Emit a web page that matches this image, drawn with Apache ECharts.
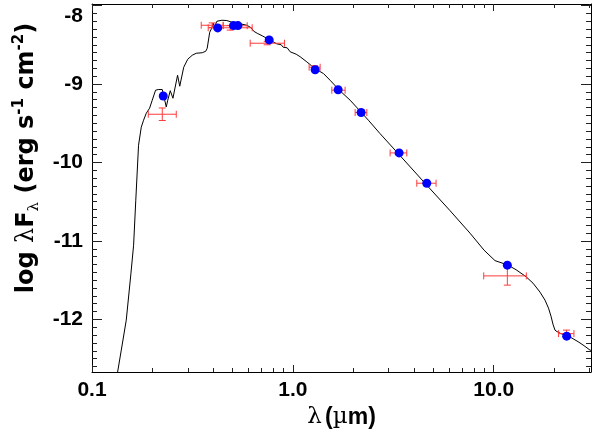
<!DOCTYPE html>
<html>
<head>
<meta charset="utf-8">
<script src="https://cdn.jsdelivr.net/npm/echarts@6/dist/echarts.min.js"></script>
<style>html,body{margin:0;padding:0;background:#fff}#main{width:598px;height:435px}</style>
</head>
<body>
<div id="main"></div>
<script>
// model spectrum: wavelength (micron) and log(lambda F_lambda)
var modelLambda = [0.1313, 0.1341, 0.1399, 0.1481, 0.1563, 0.1611, 0.1652, 0.1705, 0.1759, 0.1806,
    0.1863, 0.1935, 0.1995, 0.2072, 0.2137, 0.2238, 0.2282, 0.2343, 0.2383, 0.2453,
    0.2529, 0.2553, 0.2667, 0.2734, 0.2766, 0.2862, 0.2996, 0.3155, 0.3303, 0.3538,
    0.3683, 0.3746, 0.3855, 0.3945, 0.4014, 0.4060, 0.4187, 0.4433, 0.4694, 0.5062,
    0.5468, 0.5904, 0.6201, 0.6383, 0.6493, 0.6644, 0.7036, 0.7451, 0.7888, 0.8307,
    0.8746, 0.8949, 0.9368, 0.9696, 1.0385, 1.087, 1.174, 1.291, 1.420, 1.533,
    1.705, 1.928, 2.187, 2.377, 2.719, 3.419, 4.642, 6.062, 7.623, 8.949,
    10.15, 11.69, 12.91, 14.48, 15.69, 17.00, 18.00, 18.74, 19.28, 19.72,
    20.18, 20.65, 21.62, 23.08, 24.52, 26.28, 28.14, 30.15, 30.83];
var modelFlux = [-12.811, -12.671, -12.391, -12.009, -11.410, -11.054, -10.480, -9.780, -9.550, -9.461,
    -9.372, -9.308, -9.206, -9.079, -9.070, -9.070, -9.079, -9.292, -9.206, -9.085,
    -9.181, -9.194, -8.888, -9.028, -9.041, -8.786, -8.684, -8.633, -8.608, -8.601,
    -8.582, -8.544, -8.340, -8.289, -8.225, -8.276, -8.200, -8.187, -8.191, -8.219,
    -8.232, -8.251, -8.283, -8.327, -8.302, -8.353, -8.385, -8.420, -8.455, -8.487,
    -8.499, -8.531, -8.538, -8.589, -8.620, -8.652, -8.718, -8.805, -8.866, -8.952,
    -9.079, -9.206, -9.359, -9.461, -9.633, -9.913, -10.289, -10.614, -10.901, -11.117,
    -11.251, -11.304, -11.366, -11.455, -11.538, -11.652, -11.754, -11.856, -11.958, -12.060,
    -12.136, -12.155, -12.181, -12.206, -12.238, -12.283, -12.334, -12.391, -12.397];

// synthetic photometry of the model (blue dots)
var synLambda = [0.2263, 0.4224, 0.5062, 0.5326, 0.7623, 1.291, 1.680, 2.187, 3.380, 4.642, 11.69, 23.08];
var synFlux = [-9.152, -8.285, -8.255, -8.255, -8.438, -8.818, -9.073, -9.363, -9.878, -10.264, -11.308, -12.213];

// observed photometry (red error bars)
var obsLambda = [0.2238, 0.3968, 0.4876, 0.5163, 0.7451, 1.284, 1.686, 2.187, 3.353, 4.620, 11.69, 23.02];
var obsLambdaLo = [0.1906, 0.3498, 0.3789, 0.4499, 0.6131, 1.205, 1.563, 2.042, 3.049, 4.140, 8.918, 21.03];
var obsLambdaHi = [0.2627, 0.4499, 0.6273, 0.5925, 0.9082, 1.367, 1.820, 2.334, 3.692, 5.164, 14.53, 25.08];
var obsFlux = [-9.385, -8.251, -8.283, -8.257, -8.480, -8.786, -9.079, -9.363, -9.878, -10.264, -11.445, -12.181];
var obsErr = [0.08, 0.03, 0.03, 0.02, 0.02, 0.02, 0.02, 0.02, 0.02, 0.02, 0.118, 0.045];

// axes
var xMajorTicks = [0.1, 1, 10];
var xMinorTicks = [0.2, 0.3, 0.4, 0.5, 0.6, 0.7, 0.8, 0.9, 2, 3, 4, 5, 6, 7, 8, 9, 20, 30];
var yMajorTicks = [-12, -11, -10, -9, -8];
var xMin = 0.1, xMax = 30.5, yMin = -12.67, yMax = -7.98;

var lg = Math.log10;
var yMinorTicks = [];
for (var i = -126; i <= -80; i++) {
    if (i % 10 !== 0) yMinorTicks.push(i / 10);
}

var modelData = modelLambda.map(function (l, k) { return [lg(l), modelFlux[k]]; });
var synData = synLambda.map(function (l, k) { return [lg(l), synFlux[k]]; });
var obsData = obsLambda.map(function (l, k) {
    return [lg(l), obsFlux[k], lg(obsLambdaLo[k]), lg(obsLambdaHi[k]), obsErr[k]];
});

var fontLab = 'Liberation Sans, Arial, sans-serif';
var tickCol = '#222';

function xAxisDef(pos, major, main) {
    return {
        type: 'value', position: pos, min: lg(xMin), max: lg(xMax),
        axisLine: { show: !!main, onZero: false, lineStyle: { color: '#000', width: 1 } },
        splitLine: { show: false },
        axisTick: {
            inside: true, length: major ? 7 : 4, lineStyle: { color: tickCol },
            customValues: (major ? xMajorTicks : xMinorTicks).map(lg)
        },
        axisLabel: {
            show: pos === 'bottom' && major,
            customValues: xMajorTicks.map(lg),
            margin: 8, color: '#000', fontSize: 21, fontWeight: 'bold', fontFamily: fontLab,
            formatter: function (v) { return Math.pow(10, v).toFixed(1); }
        }
    };
}

function yAxisDef(pos, major, main) {
    return {
        type: 'value', position: pos, min: yMin, max: yMax,
        axisLine: { show: !!main, onZero: false, lineStyle: { color: '#000', width: 1 } },
        splitLine: { show: false },
        axisTick: {
            inside: true, length: major ? 10 : 5, lineStyle: { color: tickCol },
            customValues: major ? yMajorTicks : yMinorTicks
        },
        axisLabel: {
            show: pos === 'left' && major,
            customValues: yMajorTicks,
            margin: 9, color: '#000', fontSize: 21, fontWeight: 'bold', fontFamily: fontLab,
            verticalAlignMaxLabel: 'top'
        }
    };
}

var xAxes = [xAxisDef('bottom', true, true), xAxisDef('bottom', false), xAxisDef('top', true, true), xAxisDef('top', false)];
xAxes[0].name = '{g|λ} {a|(}{g|µ}{a|m)}';
xAxes[0].nameLocation = 'middle';
xAxes[0].nameGap = 29;
xAxes[0].nameTextStyle = {
    rich: {
        a: { fontSize: 23, fontWeight: 'bold', fontFamily: fontLab, color: '#000' },
        g: { fontSize: 23, fontFamily: 'DejaVu Serif, serif', color: '#000' }
    }
};

var yAxes = [yAxisDef('left', true, true), yAxisDef('left', false), yAxisDef('right', true, true), yAxisDef('right', false)];
yAxes[0].name = '{a|log }{g|λ}{a|F}{s|λ}{a| (erg s}{p|-1}{a| cm}{p|-2}{a|)}';
yAxes[0].nameLocation = 'middle';
yAxes[0].nameRotate = 90;
yAxes[0].nameGap = 38;
yAxes[0].nameTextStyle = {
    padding: [0, 0, 0, 60],
    rich: {
        a: { fontSize: 24, fontWeight: 'bold', fontFamily: 'DejaVu Sans, sans-serif', color: '#000', lineHeight: 30 },
        g: { fontSize: 24, fontFamily: 'DejaVu Serif, serif', color: '#000', lineHeight: 30 },
        s: { fontSize: 15, fontFamily: 'DejaVu Serif, serif', color: '#000', verticalAlign: 'bottom', lineHeight: 30 },
        p: { fontSize: 15, fontWeight: 'bold', fontFamily: 'DejaVu Sans, sans-serif', color: '#000', verticalAlign: 'top', lineHeight: 30 }
    }
};

function renderErr(params, api) {
    var x = api.value(0), y = api.value(1), e = api.value(4);
    var lo = api.coord([api.value(2), y]);
    var hi = api.coord([api.value(3), y]);
    var top = api.coord([x, y + e]);
    var bot = api.coord([x, y - e]);
    var cap = 3.5;
    var st = { stroke: '#ff3b3b', lineWidth: 1, fill: null };
    function ln(x1, y1, x2, y2) {
        return { type: 'line', shape: { x1: x1, y1: y1, x2: x2, y2: y2 }, style: st };
    }
    return {
        type: 'group',
        children: [
            ln(lo[0], lo[1], hi[0], hi[1]),
            ln(lo[0], lo[1] - cap, lo[0], lo[1] + cap),
            ln(hi[0], hi[1] - cap, hi[0], hi[1] + cap),
            ln(top[0], top[1], bot[0], bot[1]),
            ln(top[0] - cap, top[1], top[0] + cap, top[1]),
            ln(bot[0] - cap, bot[1], bot[0] + cap, bot[1])
        ]
    };
}

var myChart = echarts.init(document.getElementById('main'));
var option = {
    animation: false,
    backgroundColor: '#fff',
    grid: { left: 92, right: 7, top: 4, bottom: 63 },
    xAxis: xAxes,
    yAxis: yAxes,
    series: [
        {
            type: 'line', data: modelData, showSymbol: false, z: 2,
            lineStyle: { color: '#000', width: 1 }
        },
        {
            type: 'custom', data: obsData, renderItem: renderErr, z: 3,
            encode: { x: 0, y: 1 }
        },
        {
            type: 'scatter', data: synData, symbolSize: 9, z: 4,
            itemStyle: { color: '#0000ff', opacity: 1 }
        }
    ]
};
myChart.setOption(option);
</script>
</body>
</html>
